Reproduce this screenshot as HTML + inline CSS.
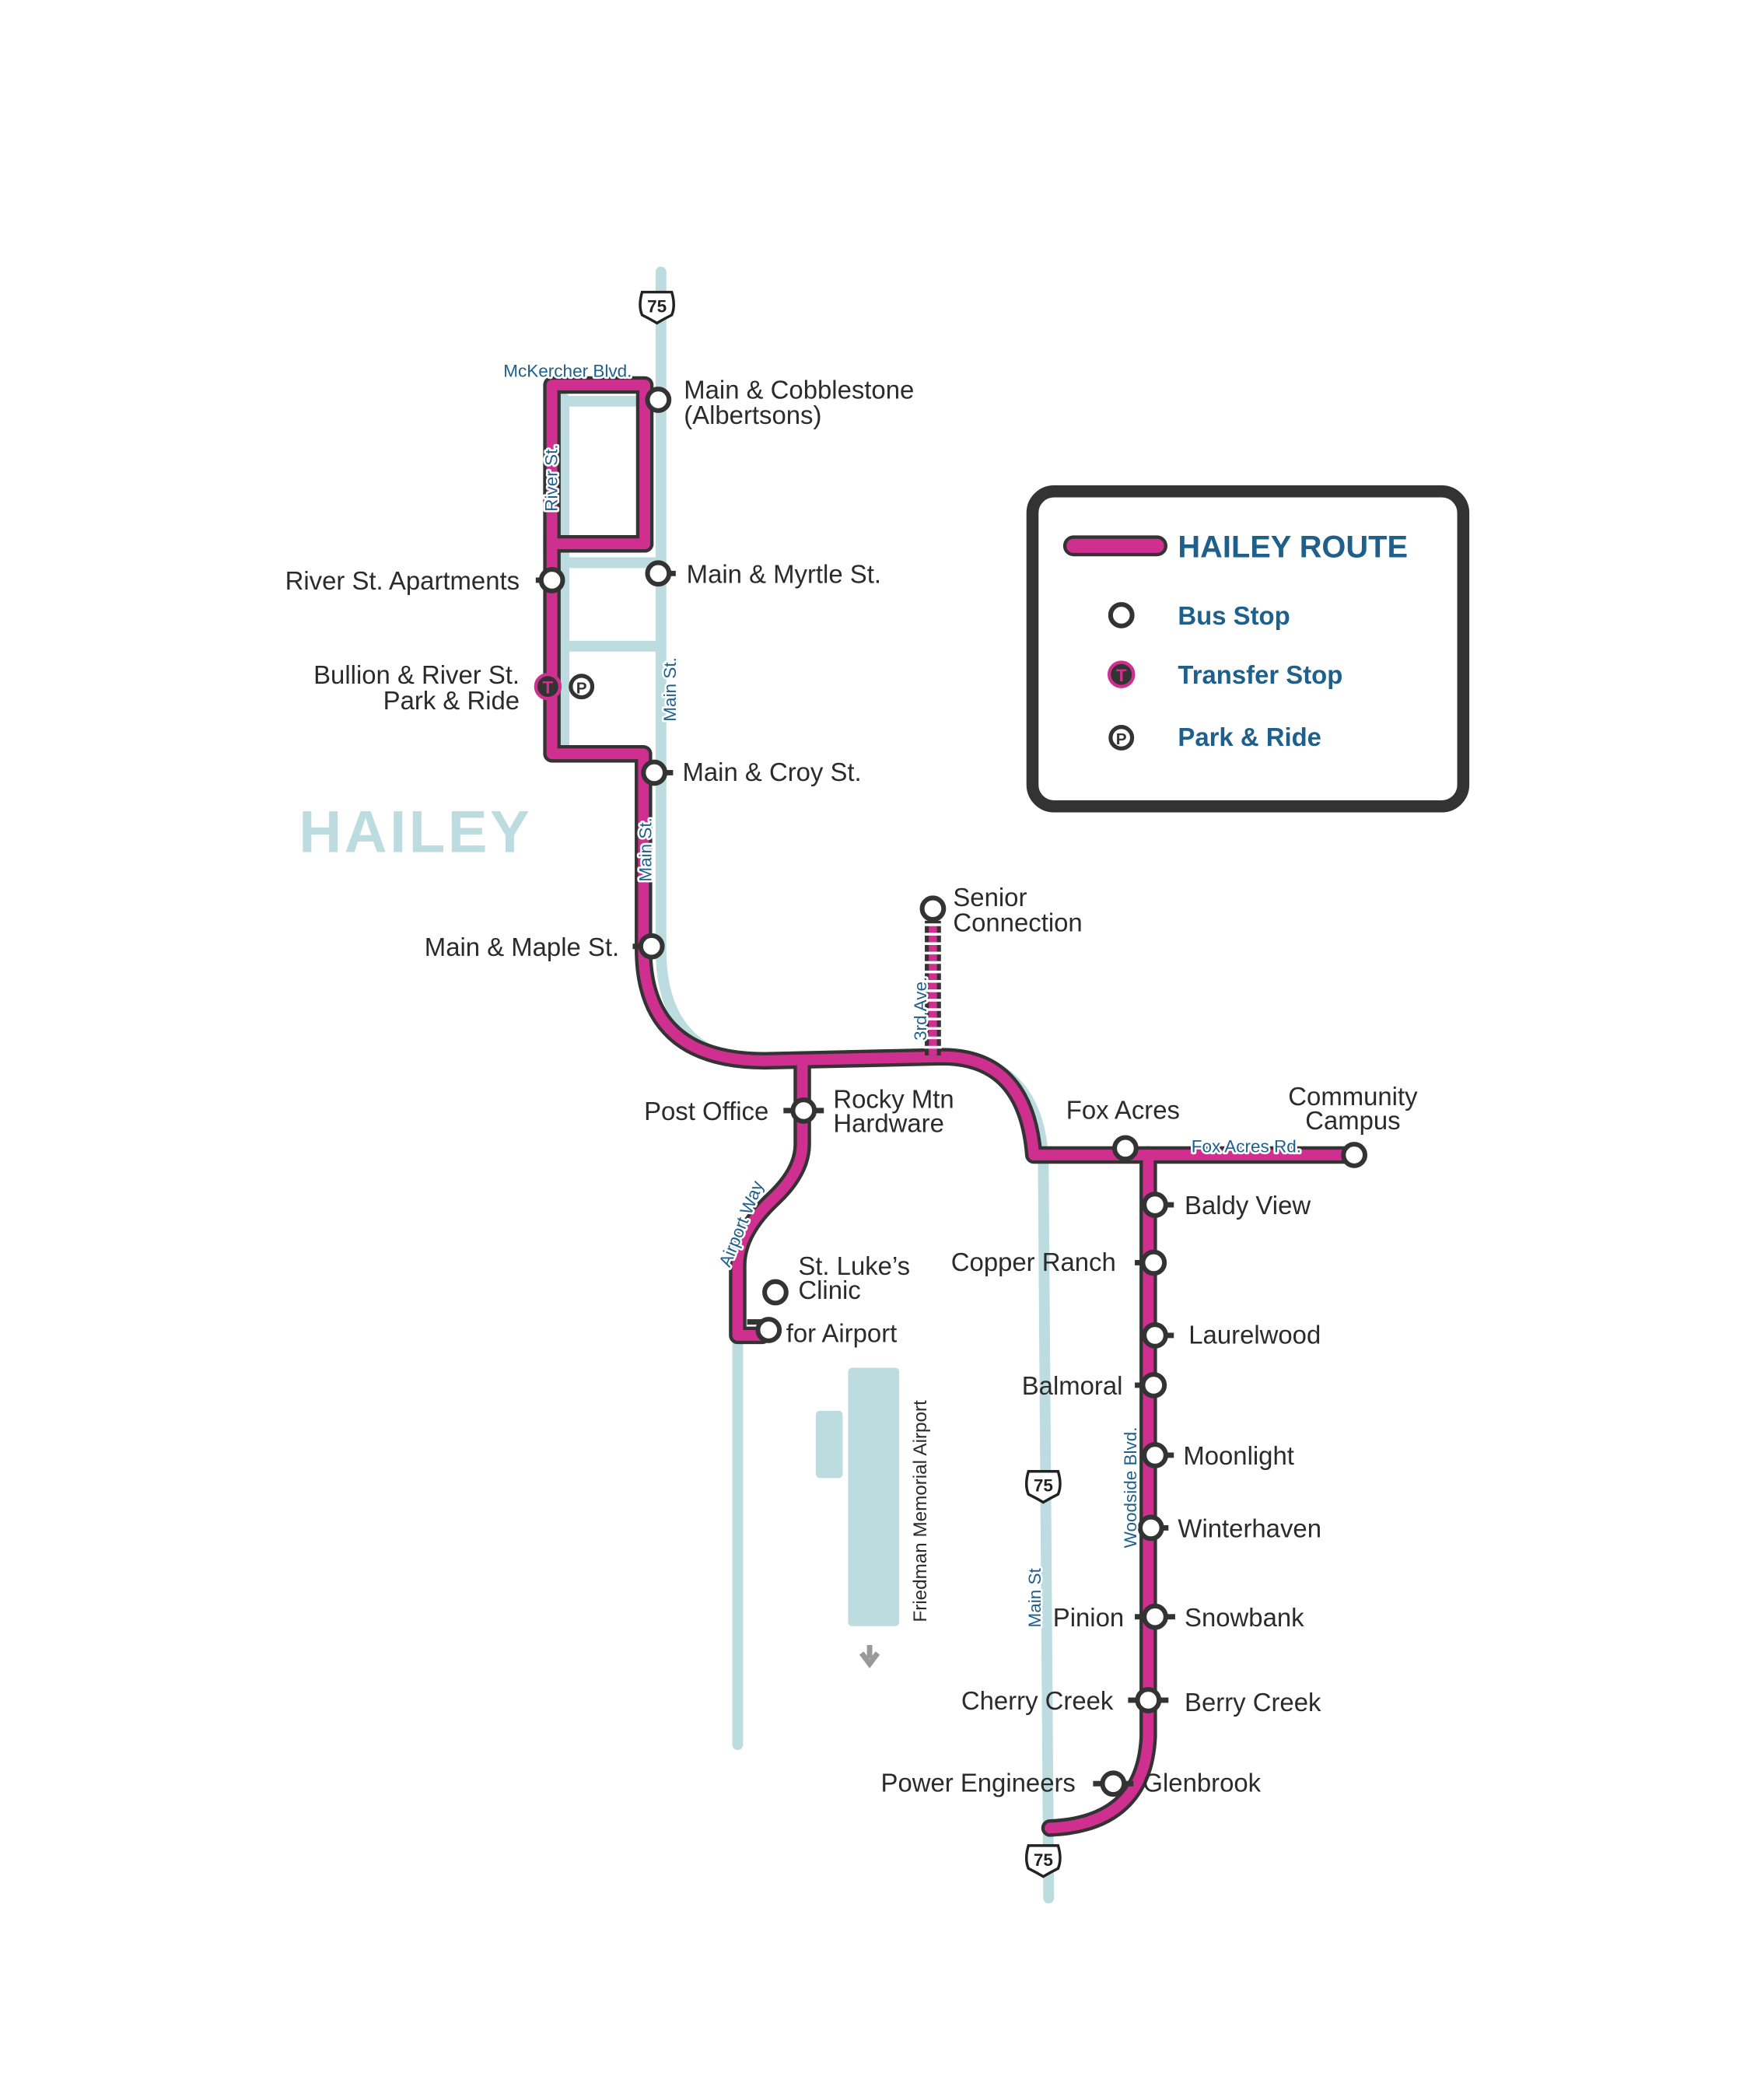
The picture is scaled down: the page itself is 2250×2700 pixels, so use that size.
<!DOCTYPE html>
<html><head><meta charset="utf-8"><style>
html,body{margin:0;padding:0;background:#fff;}
svg{display:block;}
text{font-family:"Liberation Sans",sans-serif;}
.lb{font-size:19px;fill:#2b2b2b;}
.rd{font-size:13px;fill:#1f5f8b;stroke:#fff;stroke-width:3px;paint-order:stroke;stroke-linejoin:round;}
</style></head><body>
<svg width="2250" height="2700" viewBox="0 0 1300 1560" xmlns="http://www.w3.org/2000/svg">
<defs>
<g id="stop"><circle r="8" fill="#fff" stroke="#333" stroke-width="3.5"/></g>
</defs>
<!-- roads -->
<g stroke="#bcdce0" stroke-width="8" fill="none" stroke-linecap="round">
<path d="M491,202 L491,705 Q491,790 575,790"/>
<path d="M419,298 L472,298 M419,418 L491,418 M419,480 L491,480 M419,296 L419,552"/>
<path d="M548,990 L548,1296"/>
<path d="M700,785 Q770,785 775,860 L779,1410"/>
</g>
<rect x="630" y="1016" width="38" height="192" rx="3" fill="#bcdce0"/>
<rect x="606" y="1048" width="20" height="50" rx="3" fill="#bcdce0"/>
<path d="M646,1222 v10 M640,1228 l6,8 l6,-8" stroke="#999" stroke-width="4" fill="none"/>
<!-- route -->
<g fill="none" stroke-linejoin="round" stroke-linecap="round">
<g stroke="#333" stroke-width="13">
<path d="M479,404 L479,286 L410,286 L410,560 L478,560 L478,705 Q478,788 568,788 L700,785 Q762,785 768,858 L1000,858"/>
<path d="M410,404 L479,404"/>
<path d="M596,788 L596,850 Q596,870 575,890 Q548,915 548,940 L548,992 L566,992"/>
<path d="M853,858 L853,1290 Q850,1355 780,1358"/>
</g>
<g stroke="#cf2f8f" stroke-width="8">
<path d="M479,404 L479,286 L410,286 L410,560 L478,560 L478,705 Q478,788 568,788 L700,785 Q762,785 768,858 L1000,858"/>
<path d="M410,404 L479,404"/>
<path d="M596,788 L596,850 Q596,870 575,890 Q548,915 548,940 L548,992 L566,992"/>
<path d="M853,858 L853,1290 Q850,1355 780,1358"/>
</g>
</g>
<rect x="687" y="684" width="12" height="100" fill="#333"/>
<line x1="693" y1="686" x2="693" y2="784" stroke="#cf2f8f" stroke-width="6"/>
<line x1="693" y1="686" x2="693" y2="784" stroke="#fff" stroke-width="13" stroke-dasharray="2,5"/>
<use href="#stop" x="693" y="675"/>
<text x="222" y="633" font-size="44" font-weight="bold" fill="#bcdce0" letter-spacing="2">HAILEY</text>
<g stroke="#333" stroke-width="4">
<line x1="490" y1="426" x2="502" y2="426"/><line x1="398" y1="431" x2="410" y2="431"/>
<line x1="486" y1="574" x2="500" y2="574"/><line x1="470" y1="703" x2="484" y2="703"/>
<line x1="582" y1="825" x2="612" y2="825"/>
<line x1="858" y1="895" x2="872" y2="895"/><line x1="843" y1="938" x2="857" y2="938"/>
<line x1="858" y1="992" x2="872" y2="992"/><line x1="843" y1="1029" x2="857" y2="1029"/>
<line x1="858" y1="1081" x2="872" y2="1081"/><line x1="853" y1="1135" x2="868" y2="1135"/>
<line x1="843" y1="1201" x2="873" y2="1201"/><line x1="838" y1="1263" x2="868" y2="1263"/>
<line x1="812" y1="1325" x2="842" y2="1325"/><line x1="555" y1="982" x2="570" y2="982"/>
</g>
<use href="#stop" x="489" y="297"/><use href="#stop" x="489" y="426"/><use href="#stop" x="410" y="431"/>
<use href="#stop" x="486" y="574"/><use href="#stop" x="484" y="703"/><use href="#stop" x="597" y="825"/>
<use href="#stop" x="576" y="960"/><use href="#stop" x="571" y="988"/>
<use href="#stop" x="836" y="853"/><use href="#stop" x="1006" y="858"/>
<use href="#stop" x="858" y="895"/><use href="#stop" x="857" y="938"/><use href="#stop" x="858" y="992"/>
<use href="#stop" x="857" y="1029"/><use href="#stop" x="858" y="1081"/><use href="#stop" x="855" y="1135"/>
<use href="#stop" x="858" y="1201"/><use href="#stop" x="853" y="1263"/><use href="#stop" x="827" y="1325"/>
<circle cx="407" cy="510" r="9" fill="#333" stroke="#cf2f8f" stroke-width="2.5"/>
<text x="407" y="515" font-size="13" font-weight="bold" fill="#cf2f8f" text-anchor="middle">T</text>
<circle cx="432" cy="510" r="8" fill="#fff" stroke="#333" stroke-width="3"/>
<text x="432" y="515" font-size="12" font-weight="bold" fill="#333" text-anchor="middle">P</text>
<g font-size="13" font-weight="bold" fill="#222" text-anchor="middle">
<g transform="translate(488,227)"><path d="M-11,-10 L11,-10 Q14,0 11,7 Q5,10 0,13 Q-5,10 -11,7 Q-14,0 -11,-10Z" fill="#fff" stroke="#222" stroke-width="2"/><text y="5">75</text></g>
<g transform="translate(775,1103)"><path d="M-11,-10 L11,-10 Q14,0 11,7 Q5,10 0,13 Q-5,10 -11,7 Q-14,0 -11,-10Z" fill="#fff" stroke="#222" stroke-width="2"/><text y="5">75</text></g>
<g transform="translate(775,1381)"><path d="M-11,-10 L11,-10 Q14,0 11,7 Q5,10 0,13 Q-5,10 -11,7 Q-14,0 -11,-10Z" fill="#fff" stroke="#222" stroke-width="2"/><text y="5">75</text></g>
</g>
<text class="rd" x="374" y="280">McKercher Blvd.</text>
<text class="rd" transform="translate(414,380) rotate(-90)">River St.</text>
<text class="rd" transform="translate(502,536) rotate(-90)">Main St.</text>
<text class="rd" transform="translate(484,655) rotate(-90)">Main St.</text>
<text class="rd" transform="translate(688,773) rotate(-90)">3rd Ave.</text>
<text class="rd" transform="translate(542,942) rotate(-68)">Airport Way</text>
<text class="rd" x="885" y="856">Fox Acres Rd.</text>
<text class="rd" transform="translate(844,1150) rotate(-90)">Woodside Blvd.</text>
<text class="rd" transform="translate(773,1209) rotate(-90)">Main St</text>
<text style="font-size:14px;fill:#2b2b2b" transform="translate(688,1205) rotate(-90)">Friedman Memorial Airport</text>
<g class="lb">
<text x="508" y="296">Main &amp; Cobblestone</text><text x="508" y="315">(Albertsons)</text>
<text x="510" y="433">Main &amp; Myrtle St.</text>
<text x="386" y="438" text-anchor="end">River St. Apartments</text>
<text x="386" y="508" text-anchor="end">Bullion &amp; River St.</text>
<text x="386" y="527" text-anchor="end">Park &amp; Ride</text>
<text x="507" y="580">Main &amp; Croy St.</text>
<text x="460" y="710" text-anchor="end">Main &amp; Maple St.</text>
<text x="708" y="673">Senior</text><text x="708" y="692">Connection</text>
<text x="571" y="832" text-anchor="end">Post Office</text>
<text x="619" y="823">Rocky Mtn</text><text x="619" y="841">Hardware</text>
<text x="792" y="831">Fox Acres</text>
<text x="1005" y="821" text-anchor="middle">Community</text><text x="1005" y="839" text-anchor="middle">Campus</text>
<text x="593" y="947">St. Luke’s</text><text x="593" y="965">Clinic</text>
<text x="584" y="997">for Airport</text>
<text x="880" y="902">Baldy View</text>
<text x="829" y="944" text-anchor="end">Copper Ranch</text>
<text x="883" y="998">Laurelwood</text>
<text x="834" y="1036" text-anchor="end">Balmoral</text>
<text x="879" y="1088">Moonlight</text>
<text x="875" y="1142">Winterhaven</text>
<text x="835" y="1208" text-anchor="end">Pinion</text>
<text x="880" y="1208">Snowbank</text>
<text x="827" y="1270" text-anchor="end">Cherry Creek</text>
<text x="880" y="1271">Berry Creek</text>
<text x="799" y="1331" text-anchor="end">Power Engineers</text>
<text x="849" y="1331">Glenbrook</text>
</g>
<rect x="767" y="365" width="320" height="234" rx="16" fill="#fff" stroke="#333" stroke-width="9"/>
<rect x="791" y="399" width="75" height="13" rx="6.5" fill="#cf2f8f" stroke="#333" stroke-width="2.5"/>
<text x="875" y="414" font-size="23" font-weight="bold" fill="#1f5f8b">HAILEY ROUTE</text>
<circle cx="833" cy="457" r="8" fill="#fff" stroke="#333" stroke-width="3.5"/>
<text x="875" y="464" font-size="19" font-weight="bold" fill="#1f5f8b">Bus Stop</text>
<circle cx="833" cy="501" r="9" fill="#333" stroke="#cf2f8f" stroke-width="2.5"/>
<text x="833" y="506" font-size="13" font-weight="bold" fill="#cf2f8f" text-anchor="middle">T</text>
<text x="875" y="508" font-size="19" font-weight="bold" fill="#1f5f8b">Transfer Stop</text>
<circle cx="833" cy="548" r="8" fill="#fff" stroke="#333" stroke-width="3"/>
<text x="833" y="553" font-size="12" font-weight="bold" fill="#333" text-anchor="middle">P</text>
<text x="875" y="554" font-size="19" font-weight="bold" fill="#1f5f8b">Park &amp; Ride</text>
</svg>
</body></html>
